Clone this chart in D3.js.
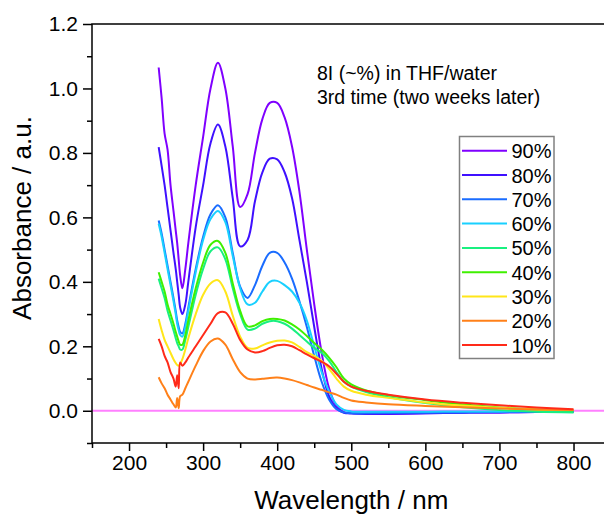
<!DOCTYPE html>
<html>
<head>
<meta charset="utf-8">
<script src="https://cdn.jsdelivr.net/npm/d3@7"></script>
<style>
	body { margin: 0; background: #fff; }
	svg { display: block; font-family: "Liberation Sans", Arial, sans-serif; }
</style>
</head>
<body>
<svg id="chart" width="604" height="516"></svg>
<script>
// wavelength grid shared by every series (nm)
const wavelengths = [240, 244, 248, 252, 256, 260, 263, 265, 267, 269, 272, 276, 280, 290, 300, 310, 320, 330, 340, 350, 360, 370, 380, 390, 400, 410, 420, 430, 440, 450, 460, 470, 480, 490, 500, 520, 550, 600, 650, 700, 750, 800];

// absorbance for each water fraction
const abs90 = [1.065, 0.97, 0.86, 0.81, 0.70, 0.62, 0.56, 0.52, 0.47, 0.42, 0.38, 0.44, 0.52, 0.70, 0.85, 1.00, 1.08, 1.00, 0.82, 0.632, 0.672, 0.80, 0.905, 0.955, 0.955, 0.91, 0.82, 0.68, 0.50, 0.33, 0.18, 0.07, 0.015, -0.004, -0.008, -0.01, -0.01, -0.008, -0.006, -0.005, -0.004, -0.003];
const abs80 = [0.818, 0.76, 0.70, 0.63, 0.56, 0.49, 0.44, 0.40, 0.36, 0.32, 0.30, 0.33, 0.40, 0.57, 0.70, 0.83, 0.888, 0.82, 0.66, 0.51, 0.53, 0.65, 0.74, 0.782, 0.78, 0.74, 0.66, 0.53, 0.40, 0.26, 0.13, 0.045, 0.008, -0.006, -0.008, -0.009, -0.009, -0.008, -0.006, -0.005, -0.004, -0.003];
const abs70 = [0.59, 0.55, 0.50, 0.45, 0.40, 0.35, 0.31, 0.28, 0.26, 0.245, 0.24, 0.27, 0.32, 0.44, 0.54, 0.61, 0.638, 0.60, 0.49, 0.385, 0.35, 0.39, 0.45, 0.49, 0.49, 0.46, 0.41, 0.34, 0.26, 0.17, 0.09, 0.035, 0.005, -0.005, -0.008, -0.008, -0.007, -0.006, -0.005, -0.004, -0.004, -0.003];
const abs60 = [0.58, 0.54, 0.49, 0.44, 0.39, 0.34, 0.30, 0.27, 0.25, 0.235, 0.23, 0.26, 0.31, 0.43, 0.53, 0.595, 0.62, 0.585, 0.48, 0.38, 0.33, 0.335, 0.37, 0.40, 0.403, 0.39, 0.37, 0.335, 0.28, 0.20, 0.12, 0.06, 0.02, 0.003, -0.002, -0.003, -0.003, -0.003, -0.002, -0.002, -0.001, -0.001];
const abs50 = [0.41, 0.38, 0.35, 0.31, 0.28, 0.25, 0.225, 0.21, 0.20, 0.19, 0.19, 0.22, 0.26, 0.36, 0.44, 0.495, 0.507, 0.47, 0.38, 0.30, 0.252, 0.255, 0.27, 0.278, 0.278, 0.27, 0.255, 0.235, 0.215, 0.195, 0.18, 0.155, 0.12, 0.09, 0.075, 0.058, 0.042, 0.024, 0.011, 0.002, -0.003, -0.005];
const abs40 = [0.43, 0.40, 0.37, 0.33, 0.30, 0.27, 0.245, 0.23, 0.215, 0.205, 0.205, 0.235, 0.28, 0.38, 0.46, 0.515, 0.527, 0.49, 0.395, 0.31, 0.262, 0.265, 0.278, 0.285, 0.285, 0.28, 0.268, 0.252, 0.232, 0.21, 0.19, 0.165, 0.135, 0.10, 0.082, 0.063, 0.048, 0.033, 0.02, 0.01, 0.004, 0.001];
const abs30 = [0.285, 0.25, 0.22, 0.20, 0.18, 0.16, 0.148, 0.142, 0.14, 0.145, 0.16, 0.19, 0.225, 0.30, 0.36, 0.395, 0.405, 0.37, 0.295, 0.23, 0.195, 0.193, 0.203, 0.212, 0.217, 0.218, 0.212, 0.198, 0.182, 0.17, 0.155, 0.13, 0.10, 0.075, 0.062, 0.05, 0.04, 0.026, 0.016, 0.009, 0.004, 0.002];
const abs20 = [0.104, 0.085, 0.07, 0.05, 0.035, 0.02, 0.01, 0.04, 0.008, 0.045, 0.05, 0.07, 0.09, 0.14, 0.185, 0.215, 0.224, 0.205, 0.16, 0.12, 0.10, 0.097, 0.099, 0.102, 0.103, 0.10, 0.095, 0.088, 0.08, 0.072, 0.065, 0.057, 0.05, 0.04, 0.032, 0.026, 0.02, 0.015, 0.011, 0.007, 0.004, 0.002];
const abs10 = [0.223, 0.20, 0.17, 0.15, 0.12, 0.10, 0.075, 0.11, 0.07, 0.15, 0.14, 0.15, 0.165, 0.20, 0.235, 0.27, 0.303, 0.305, 0.27, 0.22, 0.19, 0.181, 0.185, 0.195, 0.203, 0.205, 0.20, 0.188, 0.175, 0.163, 0.152, 0.138, 0.115, 0.09, 0.075, 0.062, 0.05, 0.035, 0.025, 0.017, 0.01, 0.005];

const seriesNames = ["90%", "80%", "70%", "60%", "50%", "40%", "30%", "20%", "10%"];
const seriesValues = [abs90, abs80, abs70, abs60, abs50, abs40, abs30, abs20, abs10];
const seriesColors = ["#7f00ff", "#3f10ff", "#1a6cff", "#19d0ff", "#19f080", "#3ff000", "#ffe619", "#ff8019", "#ff2a19"];

const xTicks = [200, 300, 400, 500, 600, 700, 800];
const yTicks = [0.0, 0.2, 0.4, 0.6, 0.8, 1.0, 1.2];
const noteLines = ["8I (~%) in THF/water", "3rd time (two weeks later)"];

const svg = d3.select("#chart");
const plotLeft = 92, plotTop = 24, plotBottom = 443;

const x = d3.scaleLinear().domain([150, 850]).range([plotLeft, plotLeft + 700 * 0.7408]);
const y = d3.scaleLinear().domain([-0.1, 1.2]).range([plotBottom, plotTop]);

svg.append("defs").append("clipPath").attr("id", "clip")
	.append("rect")
	.attr("x", plotLeft).attr("y", plotTop)
	.attr("width", x.range()[1] - plotLeft).attr("height", plotBottom - plotTop);

const plot = svg.append("g").attr("clip-path", "url(#clip)");

// zero line
plot.append("line")
	.attr("x1", plotLeft).attr("x2", x.range()[1])
	.attr("y1", y(0)).attr("y2", y(0))
	.attr("stroke", "#ff80ff").attr("stroke-width", 2);

const line = d3.line()
	.x((d) => x(d[0]))
	.y((d) => y(d[1]))
	.curve(d3.curveCatmullRom.alpha(0.5));

seriesValues.forEach((vals, i) => {
	plot.append("path")
		.datum(wavelengths.map((w, j) => [w, vals[j]]))
		.attr("d", line)
		.attr("fill", "none")
		.attr("stroke", seriesColors[i])
		.attr("stroke-width", 2)
		.attr("stroke-linejoin", "round");
});

// frame
svg.append("rect")
	.attr("x", plotLeft).attr("y", plotTop)
	.attr("width", x.range()[1] - plotLeft).attr("height", plotBottom - plotTop)
	.attr("fill", "none").attr("stroke", "#000").attr("stroke-width", 1.5);

// axes: major and minor ticks
const xMinor = d3.range(150, 851, 50).filter((v) => v % 100 !== 0);
const yMinor = d3.range(-1, 12, 2).map((v) => v / 10);

function styleAxis(g) {
	g.select(".domain").remove();
	g.selectAll(".tick line").attr("stroke", "#000").attr("stroke-width", 1.5);
	g.selectAll(".tick text").attr("fill", "#000").attr("font-size", 21)
		.attr("font-family", "Liberation Sans, Arial, sans-serif");
}

svg.append("g").attr("transform", `translate(0,${plotBottom})`)
	.call(d3.axisBottom(x).tickValues(xTicks).tickSize(8).tickPadding(4).tickFormat(d3.format("d")))
	.call(styleAxis);
svg.append("g").attr("transform", `translate(0,${plotBottom})`)
	.call(d3.axisBottom(x).tickValues(xMinor).tickSize(5).tickFormat(""))
	.call(styleAxis);

svg.append("g").attr("transform", `translate(${plotLeft},0)`)
	.call(d3.axisLeft(y).tickValues(yTicks).tickSize(9).tickPadding(5).tickFormat(d3.format(".1f")))
	.call(styleAxis);
svg.append("g").attr("transform", `translate(${plotLeft},0)`)
	.call(d3.axisLeft(y).tickValues(yMinor).tickSize(5).tickFormat(""))
	.call(styleAxis);

// axis titles
svg.append("text")
	.attr("x", x(500)).attr("y", 509)
	.attr("text-anchor", "middle").attr("font-size", 26)
	.text("Wavelength / nm");

svg.append("text")
	.attr("transform", "translate(31,218) rotate(-90)")
	.attr("text-anchor", "middle").attr("font-size", 26)
	.text("Absorbance / a.u.");

// annotation
svg.append("g").selectAll("text")
	.data(noteLines)
	.join("text")
	.attr("x", 317).attr("y", (d, i) => 80 + i * 24)
	.attr("font-size", 19.5)
	.text((d) => d);

// legend
const legend = svg.append("g");
legend.append("rect")
	.attr("x", 459.5).attr("y", 136.5).attr("width", 94.5).attr("height", 222)
	.attr("fill", "#fff").attr("stroke", "#808080").attr("stroke-width", 1.5);

const rows = legend.selectAll("g.row")
	.data(seriesNames)
	.join("g")
	.attr("class", "row")
	.attr("transform", (d, i) => `translate(0,${150.7 + i * 24.3})`);
rows.append("line")
	.attr("x1", 462).attr("x2", 507)
	.attr("stroke", (d, i) => seriesColors[i]).attr("stroke-width", 2);
rows.append("text")
	.attr("x", 511.5).attr("y", 7.5)
	.attr("font-size", 20)
	.text((d) => d);
</script>
</body>
</html>
